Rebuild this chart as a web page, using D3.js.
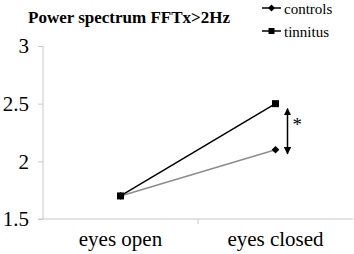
<!DOCTYPE html>
<html>
<head>
<meta charset="utf-8">
<script src="https://cdn.jsdelivr.net/npm/d3@7"></script>
<style>
  body { margin: 0; background: #fff; }
</style>
</head>
<body>
<script>
const categories = ["eyes open", "eyes closed"];
const controls = [1.7, 2.1];
const tinnitus = [1.7, 2.5];
const yTicks = [1.5, 2, 2.5, 3];

const width = 354, height = 254;
const margin = {top: 46, right: 1, bottom: 35, left: 43};
const serif = "Liberation Serif, Tinos, DejaVu Serif, serif";

const svg = d3.select("body").append("svg")
  .attr("width", width)
  .attr("height", height)
  .attr("font-family", serif);

const x = d3.scaleBand()
  .domain(categories)
  .range([margin.left, width - margin.right]);

const y = d3.scaleLinear()
  .domain([1.5, 3])
  .range([height - margin.bottom, margin.top]);

// y axis
const yAxis = svg.append("g")
  .attr("transform", "translate(" + margin.left + ",0)")
  .call(d3.axisLeft(y).tickValues(yTicks).tickSize(5).tickPadding(9)
    .tickFormat(d3.format("")));
yAxis.attr("font-family", serif);
yAxis.select(".domain").attr("stroke", "#c8c8c8").attr("d", "M0," + y(3) + "V" + y(1.5));
yAxis.selectAll(".tick line").attr("stroke", "#c8c8c8");
yAxis.selectAll(".tick text").attr("font-size", 21).attr("fill", "#000");

// x axis
const xAxis = svg.append("g")
  .attr("transform", "translate(0," + y(1.5) + ")");
xAxis.append("line")
  .attr("x1", margin.left - 5).attr("x2", width - margin.right)
  .attr("stroke", "#c8c8c8");
xAxis.selectAll("line.sep")
  .data(categories.slice(1))
  .enter().append("line")
  .attr("x1", d => x(d)).attr("x2", d => x(d))
  .attr("y1", 0).attr("y2", 5)
  .attr("stroke", "#c8c8c8");
xAxis.selectAll("text")
  .data(categories)
  .enter().append("text")
  .attr("x", d => x(d) + x.bandwidth() / 2)
  .attr("y", 27)
  .attr("text-anchor", "middle")
  .attr("font-size", 21)
  .text(d => d);

const cx = d => x(d) + x.bandwidth() / 2;
const line = d3.line()
  .x((d, i) => cx(categories[i]))
  .y(d => y(d));

// controls (grey line, diamond markers)
svg.append("path")
  .attr("d", line(controls))
  .attr("fill", "none")
  .attr("stroke", "#8c8c8c")
  .attr("stroke-width", 1.5);

// tinnitus (black line, square markers)
svg.append("path")
  .attr("d", line(tinnitus))
  .attr("fill", "none")
  .attr("stroke", "#000")
  .attr("stroke-width", 1.5);

svg.selectAll("path.diamond")
  .data(controls)
  .enter().append("path")
  .attr("transform", (d, i) => "translate(" + cx(categories[i]) + "," + y(d) + ") rotate(45)")
  .attr("d", "M-2.7,-2.7H2.7V2.7H-2.7Z")
  .attr("fill", "#000");

svg.selectAll("rect.sq")
  .data(tinnitus)
  .enter().append("rect")
  .attr("x", (d, i) => cx(categories[i]) - 3.5)
  .attr("y", d => y(d) - 3.5)
  .attr("width", 7).attr("height", 7)
  .attr("fill", "#000");

// significance marker
const ax = cx(categories[1]) + 12;
const defs = svg.append("defs");
defs.append("marker")
  .attr("id", "ah")
  .attr("viewBox", "0 0 10 10")
  .attr("refX", 9).attr("refY", 5)
  .attr("markerWidth", 5).attr("markerHeight", 5)
  .attr("orient", "auto-start-reverse")
  .append("path").attr("d", "M0,0L10,5L0,10Z").attr("fill", "#000");
svg.append("line")
  .attr("x1", ax).attr("x2", ax)
  .attr("y1", y(tinnitus[1]) + 5).attr("y2", y(controls[1]) + 4)
  .attr("stroke", "#000").attr("stroke-width", 1.5)
  .attr("marker-start", "url(#ah)")
  .attr("marker-end", "url(#ah)");
svg.append("text")
  .attr("x", ax + 5).attr("y", y(tinnitus[1]) + 27)
  .attr("font-size", 19)
  .text("*");

// title
svg.append("text")
  .attr("x", 28).attr("y", 23)
  .attr("font-size", 17)
  .attr("font-weight", "bold")
  .text("Power spectrum FFTx>2Hz");

// legend
const legend = [
  {name: "controls", shape: "diamond"},
  {name: "tinnitus", shape: "square"}
];
const lg = svg.selectAll("g.leg")
  .data(legend)
  .enter().append("g")
  .attr("transform", (d, i) => "translate(262," + (8 + i * 23) + ")");
lg.append("line")
  .attr("x1", 0).attr("x2", 19)
  .attr("stroke", "#000").attr("stroke-width", 1.5);
lg.append("path")
  .attr("d", d => d.shape === "diamond"
    ? "M-2.5,-2.5H2.5V2.5H-2.5Z" : "M-3,-3H3V3H-3Z")
  .attr("transform", d => "translate(9.5,0)" + (d.shape === "diamond" ? " rotate(45)" : ""))
  .attr("fill", "#000");
lg.append("text")
  .attr("x", 22).attr("y", 6)
  .attr("font-size", 15)
  .text(d => d.name);
</script>
</body>
</html>
